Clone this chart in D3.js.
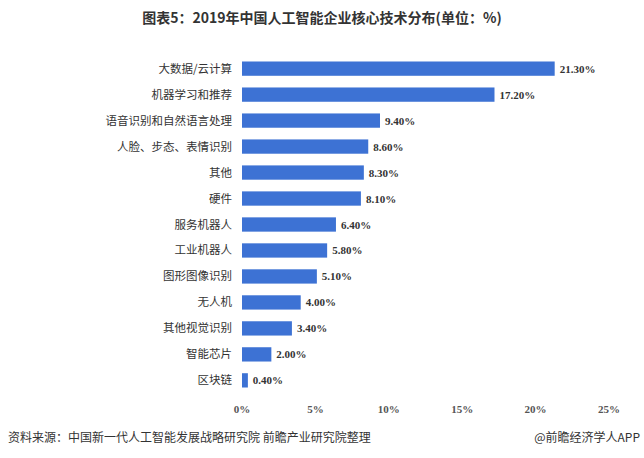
<!DOCTYPE html>
<html><head><meta charset="utf-8">
<script src="https://cdn.jsdelivr.net/npm/d3@7"></script>
<style>body{margin:0;background:#fff}</style>
</head><body>
<svg id="c" width="644" height="458"></svg>
<script>
var categories=["大数据/云计算","机器学习和推荐","语音识别和自然语言处理","人脸、步态、表情识别","其他","硬件","服务机器人","工业机器人","图形图像识别","无人机","其他视觉识别","智能芯片","区块链"];
var values=[21.3,17.2,9.4,8.6,8.3,8.1,6.4,5.8,5.1,4.0,3.4,2.0,0.4];
var ticks=[0,5,10,15,20,25];

var svg=d3.select("#c");
// title
svg.append("text").attr("x",322).attr("y",23).attr("text-anchor","middle")
  .style("font-family","'Noto Sans CJK SC',sans-serif").style("font-weight","bold").style("font-size","14px").attr("fill","#333")
  .text("图表5：2019年中国人工智能企业核心技术分布(单位：%)");

var x=d3.scaleLinear().domain([0,25]).range([242,609]);
var y=d3.scaleBand().domain(categories).range([55,394]).paddingInner(0.45).paddingOuter(0.25);

svg.selectAll("rect.bar").data(values).enter().append("rect")
  .attr("x",x(0)).attr("y",function(d,i){return y(categories[i]);})
  .attr("width",function(d){return x(d)-x(0);}).attr("height",y.bandwidth())
  .attr("fill","#3d72d4");

svg.selectAll("text.val").data(values).enter().append("text")
  .attr("x",function(d){return x(d)+5;}).attr("y",function(d,i){return y(categories[i])+y.bandwidth()/2+4;})
  .style("font-family","'Liberation Serif',serif").style("font-weight","bold").style("font-size","11px").attr("fill","#333")
  .text(function(d){return d.toFixed(2)+"%";});

svg.selectAll("text.cat").data(categories).enter().append("text")
  .attr("x",232).attr("y",function(d){return y(d)+y.bandwidth()/2+4;}).attr("text-anchor","end")
  .style("font-family","'Noto Sans CJK SC',sans-serif").style("font-size","11.5px").attr("fill","#333")
  .text(function(d){return d;});

svg.selectAll("text.tick").data(ticks).enter().append("text")
  .attr("x",function(d){return x(d);}).attr("y",413).attr("text-anchor","middle")
  .style("font-family","'Liberation Serif',serif").style("font-weight","bold").style("font-size","11px").attr("fill","#555")
  .text(function(d){return d+"%";});

svg.append("text").attr("x",8).attr("y",442)
  .style("font-family","'Noto Sans CJK SC',sans-serif").style("font-size","12px").attr("fill","#333")
  .text("资料来源：中国新一代人工智能发展战略研究院 前瞻产业研究院整理");
svg.append("text").attr("x",640).attr("y",442).attr("text-anchor","end")
  .style("font-family","'Noto Sans CJK SC',sans-serif").style("font-size","12px").attr("fill","#333")
  .text("@前瞻经济学人APP");
</script>
</body></html>
